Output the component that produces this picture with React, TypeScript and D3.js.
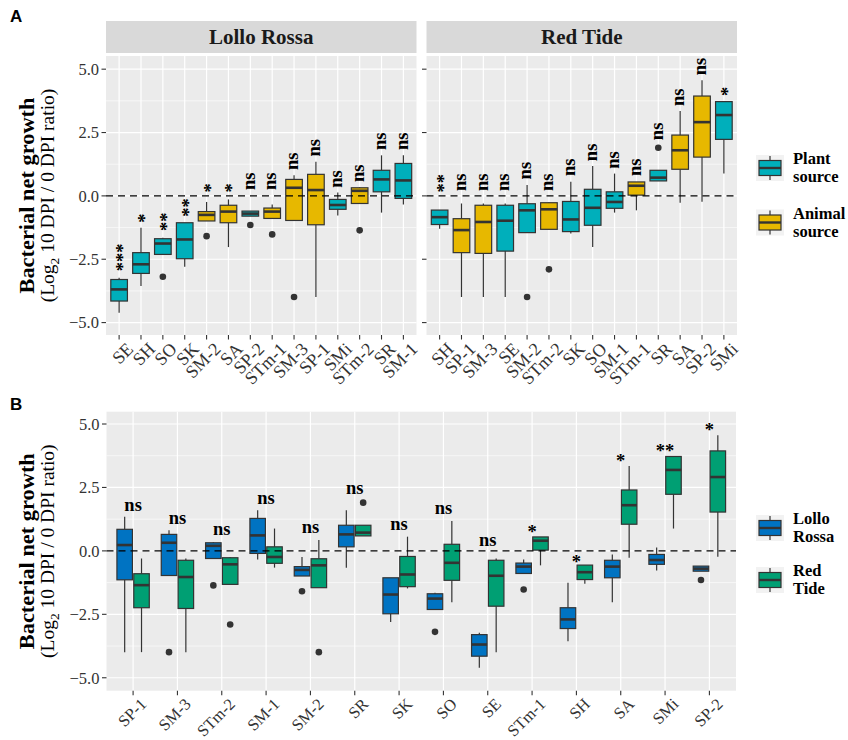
import React from 'react';
import * as d3 from 'd3';

// Lollo Rossa facet, in the plotted order (box stats in log2 units)
const lolloStrains = ['SE', 'SH', 'SO', 'SK', 'SM-2', 'SA', 'SP-2', 'STm-1', 'SM-3', 'SP-1', 'SMi', 'STm-2', 'SR', 'SM-1'];
const lolloSource = ['plant', 'plant', 'plant', 'plant', 'animal', 'animal', 'plant', 'animal', 'animal', 'animal', 'plant', 'animal', 'plant', 'plant'];
const lolloLow = [-4.61, -3.56, -2.31, -2.8, -0.99, -2.02, -0.8, -0.89, -0.97, -3.99, -0.77, -0.3, -0.66, -0.34];
const lolloQ1 = [-4.15, -3.06, -2.31, -2.48, -0.99, -1.06, -0.8, -0.89, -0.97, -1.14, -0.53, -0.3, 0.16, -0.1];
const lolloMedian = [-3.69, -2.7, -1.88, -1.72, -0.75, -0.62, -0.7, -0.62, 0.32, 0.23, -0.36, 0.2, 0.65, 0.61];
const lolloQ3 = [-3.3, -2.24, -1.69, -1.06, -0.62, -0.37, -0.6, -0.48, 0.65, 0.85, -0.14, 0.32, 1.01, 1.28];
const lolloHigh = [-3.23, -1.26, -1.65, -1.06, -0.24, -0.14, -0.6, -0.34, 0.81, 1.35, 0.13, 0.35, 1.6, 1.6];
const lolloOutliers = [[], [], [-3.19], [], [-1.59], [], [-1.15], [-1.52], [-3.99], [], [], [-1.36], [], []];
const lolloSignif = ['***', '*', '**', '**', '*', '*', 'ns', 'ns', 'ns', 'ns', 'ns', 'ns', 'ns', 'ns'];
const lolloSignifY = [-2.97, -1.06, -1.39, -0.82, 0.13, 0.13, 0.23, 0.23, 1.02, 1.55, 0.32, 0.55, 1.81, 1.81];

// Red Tide facet
const tideStrains = ['SH', 'SP-1', 'SM-3', 'SE', 'SM-2', 'STm-2', 'SK', 'SO', 'SM-1', 'STm-1', 'SR', 'SA', 'SP-2', 'SMi'];
const tideSource = ['plant', 'animal', 'animal', 'plant', 'plant', 'animal', 'plant', 'plant', 'plant', 'animal', 'plant', 'animal', 'animal', 'plant'];
const tideLow = [-1.3, -3.99, -3.99, -3.99, -1.45, -1.32, -1.48, -2.02, -0.66, -0.57, 0.59, -0.27, -0.23, 0.88];
const tideQ1 = [-1.13, -2.24, -2.27, -2.18, -1.45, -1.32, -1.41, -1.16, -0.49, 0.03, 0.59, 1.05, 1.53, 2.23];
const tideMedian = [-0.84, -1.35, -1.03, -0.98, -0.57, -0.53, -0.93, -0.47, -0.24, 0.4, 0.72, 1.8, 2.91, 3.19];
const tideQ3 = [-0.56, -0.9, -0.37, -0.37, -0.31, -0.27, -0.22, 0.26, 0.16, 0.55, 1.01, 2.4, 3.94, 3.72];
const tideHigh = [-0.56, -0.3, -0.3, -0.3, 0.43, -0.24, 0.56, 1.18, 0.88, 0.55, 1.01, 3.35, 4.56, 3.72];
const tideOutliers = [[], [], [], [], [-3.99], [-2.9], [], [], [], [], [1.9], [], [], []];
const tideSignif = ['**', 'ns', 'ns', 'ns', 'ns', 'ns', 'ns', 'ns', 'ns', 'ns', 'ns', 'ns', 'ns', '*'];
const tideSignifY = [0.13, 0.19, 0.19, 0.19, 0.65, 0.19, 0.78, 1.37, 1.07, 0.78, 2.2, 3.55, 4.76, 3.94];

// Panel B: cultivar comparison per strain
const pairStrains = ['SP-1', 'SM-3', 'STm-2', 'SM-1', 'SM-2', 'SR', 'SK', 'SO', 'SE', 'STm-1', 'SH', 'SA', 'SMi', 'SP-2'];
const pairSignif = ['ns', 'ns', 'ns', 'ns', 'ns', 'ns', 'ns', 'ns', 'ns', '*', '*', '*', '**', '*'];
const pairSignifY = [1.75, 1.22, 0.79, 2.01, 0.86, 2.41, 0.99, 1.62, 0.37, 0.9, -0.29, 3.7, 4.09, 4.92];

const yTicks = [-5, -2.5, 0, 2.5, 5];
const yMinor = [-3.75, -1.25, 1.25, 3.75];

type Box = {
  strain: string; low: number; q1: number; med: number; q3: number; high: number;
  out: number[]; src: string; sig: string; sigY: number;
};

const makeBoxes = (strains: string[], low: number[], q1: number[], med: number[], q3: number[],
  high: number[], out: number[][], src: string[], sig: string[], sigY: number[]): Box[] =>
  strains.map((s, i) => ({
    strain: s, low: low[i], q1: q1[i], med: med[i], q3: q3[i], high: high[i],
    out: out[i], src: src[i], sig: sig[i], sigY: sigY[i],
  }));

const lolloBoxes = makeBoxes(lolloStrains, lolloLow, lolloQ1, lolloMedian, lolloQ3, lolloHigh, lolloOutliers, lolloSource, lolloSignif, lolloSignifY);
const tideBoxes = makeBoxes(tideStrains, tideLow, tideQ1, tideMedian, tideQ3, tideHigh, tideOutliers, tideSource, tideSignif, tideSignifY);

const ink = '#333333';
const srcColor: Record<string, string> = { plant: '#00AFBB', animal: '#E7B800' };
const lolloCol = '#0073C2';
const tideCol = '#009F73';
const serif = "'Liberation Serif', 'Times New Roman', serif";

const BoxPlot = ({ b, cx, w, y, fill }: { b: Box; cx: number; w: number; y: d3.ScaleLinear<number, number>; fill: string }) => (
  <g>
    <line x1={cx} x2={cx} y1={y(b.high)} y2={y(b.q3)} stroke={ink} strokeWidth={1.2} />
    <line x1={cx} x2={cx} y1={y(b.q1)} y2={y(b.low)} stroke={ink} strokeWidth={1.2} />
    <rect x={cx - w / 2} y={y(b.q3)} width={w} height={Math.max(y(b.q1) - y(b.q3), 0.5)} fill={fill} stroke={ink} strokeWidth={1.2} />
    <line x1={cx - w / 2} x2={cx + w / 2} y1={y(b.med)} y2={y(b.med)} stroke={ink} strokeWidth={2.6} />
    {b.out.map((o, i) => <circle key={i} cx={cx} cy={y(o)} r={3.3} fill={ink} />)}
  </g>
);

const PanelBg = ({ x0, x1, y, cats }: { x0: number; x1: number; y: d3.ScaleLinear<number, number>; cats: number[] }) => {
  const [yb, yt] = y.range();
  return (
    <g>
      <rect x={x0} y={yt} width={x1 - x0} height={yb - yt} fill="#EBEBEB" />
      {yMinor.map((t) => <line key={t} x1={x0} x2={x1} y1={y(t)} y2={y(t)} stroke="#fff" strokeWidth={0.6} />)}
      {yTicks.map((t) => <line key={t} x1={x0} x2={x1} y1={y(t)} y2={y(t)} stroke="#fff" strokeWidth={1.2} />)}
      {cats.map((c, i) => <line key={i} x1={c} x2={c} y1={yt} y2={yb} stroke="#fff" strokeWidth={1.2} />)}
    </g>
  );
};

const ZeroLine = ({ x0, x1, y }: { x0: number; x1: number; y: d3.ScaleLinear<number, number> }) => (
  <line x1={x0} x2={x1} y1={y(0)} y2={y(0)} stroke="#000" strokeWidth={1.3} strokeDasharray="7,5" />
);

const YAxis = ({ x0, y, labels }: { x0: number; y: d3.ScaleLinear<number, number>; labels: boolean }) => (
  <g>
    {yTicks.map((t) => (
      <g key={t}>
        <line x1={x0 - 4.5} x2={x0} y1={y(t)} y2={y(t)} stroke={ink} strokeWidth={1.1} />
        {labels && (
          <text x={x0 - 7} y={y(t)} dy="0.35em" textAnchor="end" fontSize={16.5} fill="#333">
            {d3.format('.1f')(t)}
          </text>
        )}
      </g>
    ))}
  </g>
);

const XAxis = ({ x, yb, cats, size }: { x: d3.ScalePoint<string>; yb: number; cats: string[]; size: number }) => (
  <g>
    {cats.map((c) => {
      const cx = x(c) as number;
      return (
        <g key={c}>
          <line x1={cx} x2={cx} y1={yb} y2={yb + 4.5} stroke={ink} strokeWidth={1.1} />
          <text transform={`translate(${cx + 6},${yb + 6}) rotate(-45)`} textAnchor="end" dy="0.72em" fontSize={size} fill="#333">
            {c}
          </text>
        </g>
      );
    })}
  </g>
);

const YTitle = ({ cy }: { cy: number }) => (
  <g>
    <text transform={`translate(34,${cy}) rotate(-90)`} textAnchor="middle" fontWeight="bold" fontSize={20}
      textLength={196} lengthAdjust="spacingAndGlyphs">
      Bacterial net growth
    </text>
    <text transform={`translate(54,${cy}) rotate(-90)`} textAnchor="middle" fontSize={19.5}>
      (Log<tspan fontSize={13.5} dy={5}>2</tspan>
      <tspan dy={-5}> 10 DPI / 0 DPI ratio)</tspan>
    </text>
  </g>
);

const LegendKey = ({ x, cy, fill, lines }: { x: number; cy: number; fill: string; lines: string[] }) => {
  const w = 28, h = 26;
  const top = cy - h / 2;
  return (
    <g>
      <rect x={x} y={top} width={w} height={h} fill="#F2F2F2" />
      <line x1={x + w / 2} x2={x + w / 2} y1={top + 1} y2={top + h - 1} stroke={ink} strokeWidth={1.2} />
      <rect x={x + 3} y={cy - 7.5} width={w - 6} height={15} fill={fill} stroke={ink} strokeWidth={1.2} />
      <line x1={x + 3} x2={x + w - 3} y1={cy} y2={cy} stroke={ink} strokeWidth={2.4} />
      {lines.map((l, i) => (
        <text key={l} x={x + w + 9} y={cy - 4 + i * 18} fontSize={16.5} fontWeight="bold">{l}</text>
      ))}
    </g>
  );
};

const App = () => {
  // panel A
  const aTop = 56, aBottom = 335;
  const yA = d3.scaleLinear().domain([-5.49, 5.52]).range([aBottom, aTop]);
  const facets = [
    { name: 'Lollo Rossa', x0: 106, x1: 416.5, boxes: lolloBoxes },
    { name: 'Red Tide', x0: 426.5, x1: 737, boxes: tideBoxes },
  ];

  // panel B
  const bTop = 411.7, bBottom = 690.7;
  const yB = d3.scaleLinear().domain([-5.51, 5.485]).range([bBottom, bTop]);
  const bx0 = 106.5, bx1 = 736;
  const xB = d3.scalePoint<string>().domain(pairStrains).range([bx0, bx1]).padding(0.6);
  const stepB = xB.step();
  const lolloBy = new Map(lolloBoxes.map((b) => [b.strain, b]));
  const tideBy = new Map(tideBoxes.map((b) => [b.strain, b]));

  return (
    <svg width={848} height={740} style={{ position: 'absolute', left: 0, top: 0, background: '#fff' }} fontFamily={serif}>
      <text x={10} y={22} fontFamily="'Liberation Sans', Arial, sans-serif" fontWeight="bold" fontSize={17}>A</text>
      <text x={10} y={410} fontFamily="'Liberation Sans', Arial, sans-serif" fontWeight="bold" fontSize={17}>B</text>

      <YTitle cy={(aTop + aBottom) / 2} />
      <YTitle cy={(bTop + bBottom) / 2} />

      {facets.map((f, fi) => {
        const x = d3.scalePoint<string>().domain(f.boxes.map((b) => b.strain)).range([f.x0, f.x1]).padding(0.6);
        const bw = x.step() * 0.76;
        return (
          <g key={f.name}>
            <rect x={f.x0} y={21} width={f.x1 - f.x0} height={32} fill="#D9D9D9" />
            <text x={(f.x0 + f.x1) / 2} y={44} textAnchor="middle" fontWeight="bold" fontSize={21} fill="#1A1A1A">
              {f.name}
            </text>
            <PanelBg x0={f.x0} x1={f.x1} y={yA} cats={f.boxes.map((b) => x(b.strain) as number)} />
            {f.boxes.map((b) => (
              <BoxPlot key={b.strain} b={b} cx={x(b.strain) as number} w={bw} y={yA} fill={srcColor[b.src]} />
            ))}
            <ZeroLine x0={f.x0} x1={f.x1} y={yA} />
            {f.boxes.map((b) => {
              const star = b.sig !== 'ns';
              return (
                <text key={b.strain} transform={`translate(${x(b.strain)},${yA(b.sigY)}) rotate(-90)`}
                  dy={star ? '0.54em' : '0.23em'} fontWeight="bold" fontSize={18.5}>
                  {b.sig}
                </text>
              );
            })}
            <YAxis x0={f.x0} y={yA} labels={fi === 0} />
            <XAxis x={x} yb={aBottom} cats={f.boxes.map((b) => b.strain)} size={18} />
          </g>
        );
      })}

      <PanelBg x0={bx0} x1={bx1} y={yB} cats={pairStrains.map((s) => xB(s) as number)} />
      {pairStrains.map((s) => {
        const cx = xB(s) as number;
        return (
          <g key={s}>
            <BoxPlot b={lolloBy.get(s)!} cx={cx - stepB * 0.19} w={stepB * 0.35} y={yB} fill={lolloCol} />
            <BoxPlot b={tideBy.get(s)!} cx={cx + stepB * 0.19} w={stepB * 0.35} y={yB} fill={tideCol} />
          </g>
        );
      })}
      <ZeroLine x0={bx0} x1={bx1} y={yB} />
      {pairStrains.map((s, i) => {
        const star = pairSignif[i] !== 'ns';
        return (
          <text key={s} x={xB(s)} y={yB(pairSignifY[i])} dy={star ? '0.54em' : '0.23em'} textAnchor="middle" fontWeight="bold" fontSize={18.5}>
            {pairSignif[i]}
          </text>
        );
      })}
      <YAxis x0={bx0} y={yB} labels />
      <XAxis x={xB} yb={bBottom} cats={pairStrains} size={16.5} />

      <LegendKey x={756} cy={168} fill={srcColor.plant} lines={['Plant', 'source']} />
      <LegendKey x={756} cy={222.5} fill={srcColor.animal} lines={['Animal', 'source']} />
      <LegendKey x={756} cy={528} fill={lolloCol} lines={['Lollo', 'Rossa']} />
      <LegendKey x={756} cy={580} fill={tideCol} lines={['Red', 'Tide']} />
    </svg>
  );
};

export default App;
